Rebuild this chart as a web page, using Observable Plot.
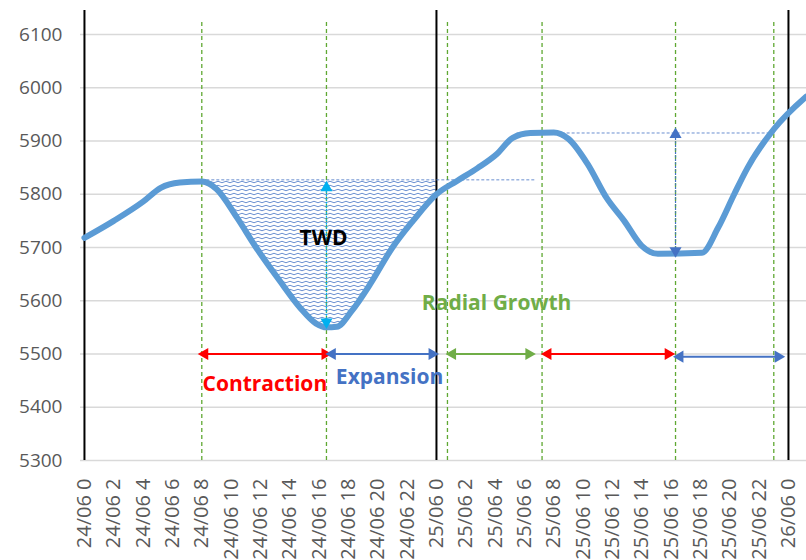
<!DOCTYPE html>
<html><head><meta charset="utf-8">
<script src="https://cdn.jsdelivr.net/npm/d3@7"></script>
<script src="https://cdn.jsdelivr.net/npm/@observablehq/plot@0.6"></script>
<style>body{margin:0;background:#fff;}</style>
</head><body><div id="chart"></div>
<script>
// Stem diameter / dendrometer curve (hours from 24/06 0h)
const hours  = [0, 2, 4, 5.2, 6.5, 8, 9, 10.4, 11.7, 13.3, 14.7, 15.8, 16.5, 17.2, 18.2, 19.5, 21, 22.4, 24, 25.4, 26.8, 28.1, 29.2, 30.4, 32, 33, 34.3, 35.6, 36.8, 38, 39.1, 42.1, 43.2, 44.3, 45.2, 47, 49.2];
const values = [5718, 5750, 5786, 5812, 5822, 5824, 5810, 5756, 5700, 5638, 5587, 5557, 5550, 5551, 5580, 5632, 5700, 5750, 5800, 5825, 5849, 5875, 5906, 5915, 5916, 5904, 5857, 5793, 5750, 5703, 5688, 5690, 5737, 5800, 5849, 5922, 5983];

const yTicks = [5300, 5400, 5500, 5600, 5700, 5800, 5900, 6000, 6100];
const tickHours = [0,2,4,6,8,10,12,14,16,18,20,22,24,26,28,30,32,34,36,38,40,42,44,46,48];
const tickLabels = ["24/06 0","24/06 2","24/06 4","24/06 6","24/06 8","24/06 10","24/06 12","24/06 14","24/06 16","24/06 18","24/06 20","24/06 22",
  "25/06 0","25/06 2","25/06 4","25/06 6","25/06 8","25/06 10","25/06 12","25/06 14","25/06 16","25/06 18","25/06 20","25/06 22","26/06 0"];

const dayBoundaries = [0, 24, 48];
const phaseLines = [8, 16.5, 24.75, 31.2, 40.3, 47];

// TWD reference level and shaded range
const twdLevel = 5827;
const twdFrom = 8;
const twdTo = 24;

// dashed reference levels
const refLevels = [5827, 5915];
const refFrom   = [8, 29.5];
const refTo     = [30.8, 47.1];

// horizontal phase arrows
const arrowFrom  = [8.2, 16.9, 25.1, 31.6, 40.6];
const arrowTo    = [16.4, 23.7, 30.3, 39.8, 47.3];
const arrowLevel = [5500, 5500, 5500, 5500, 5495];
const arrowColor = ["#ff0000", "#4472c4", "#70ad47", "#ff0000", "#4472c4"];

// vertical arrows (TWD magnitude)
const vArrowHour  = [16.5, 40.3];
const vArrowTop   = [5812, 5912];
const vArrowBot   = [5560, 5694];
const vArrowColor = ["#00b0f0", "#4472c4"];

// annotation labels
const labelText  = ["TWD", "Radial Growth", "Contraction", "Expansion"];
const labelHour  = [16.3, 28.1, 12.3, 20.8];
const labelValue = [5718, 5596, 5444, 5457];
const labelColor = ["#000000", "#70ad47", "#ff0000", "#4472c4"];

const curve = hours.map((h, i) => ({h, v: values[i]}));
const twdData = curve.filter(d => d.h >= twdFrom && d.h <= twdTo);
const refs = refLevels.map((v, i) => ({v, x1: refFrom[i], x2: refTo[i]}));
const arrows = arrowFrom.map((x1, i) => ({x1, x2: arrowTo[i], y: arrowLevel[i], c: arrowColor[i]}));
const heads = arrows.flatMap(a => [{x: a.x1, y: a.y, c: a.c, r: -90}, {x: a.x2, y: a.y, c: a.c, r: 90}]);
const vArrows = vArrowHour.map((h, i) => ({h, y1: vArrowTop[i], y2: vArrowBot[i], c: vArrowColor[i]}));
const vHeads = vArrows.flatMap(a => [{x: a.h, y: a.y1, c: a.c, r: 0}, {x: a.h, y: a.y2, c: a.c, r: 180}]);
const labels = labelText.map((t, i) => ({t, h: labelHour[i], v: labelValue[i], c: labelColor[i]}));

const svg = Plot.plot({
  width: 806,
  height: 560,
  marginLeft: 80,
  marginRight: 0,
  marginTop: 10,
  marginBottom: 100,
  style: {fontFamily: "'Open Sans', sans-serif", background: "#fff"},
  x: {domain: [-0.27, 49.23], label: null},
  y: {domain: [5300, 6145], label: null},
  marks: [
    Plot.gridY(yTicks, {stroke: "#d9d9d9", strokeOpacity: 1, strokeWidth: 1.5}),
    Plot.axisY({ticks: yTicks, tickFormat: d => String(d), tickSize: 0, tickPadding: 18, fontSize: 19, color: "#595959", label: null}),
    Plot.axisX({ticks: tickHours, tickFormat: d => tickLabels[tickHours.indexOf(d)], tickRotate: -90, tickSize: 0, tickPadding: 18, fontSize: 20, color: "#595959", label: null}),
    Plot.areaY(twdData, {x: "h", y1: twdLevel, y2: "v", fill: "url(#wave)", curve: "monotone-x"}),
    Plot.ruleX(phaseLines, {y1: 5300, y2: 6125, stroke: "#5fa832", strokeWidth: 1.3, strokeDasharray: "4,3"}),
    Plot.ruleX(dayBoundaries, {y1: 5300, y2: 6145, stroke: "#000", strokeWidth: 2}),
    Plot.ruleY(refs, {y: "v", x1: "x1", x2: "x2", stroke: "#4472c4", strokeWidth: 0.8, strokeDasharray: "3,2"}),
    Plot.line(curve, {x: "h", y: "v", stroke: "#5b9bd5", strokeWidth: 6, curve: "monotone-x", strokeLinejoin: "round", strokeLinecap: "round"}),
    Plot.link(vArrows, {x1: "h", x2: "h", y1: "y1", y2: "y2", stroke: "c", strokeWidth: 1.2, strokeDasharray: "2,1.5"}),
    Plot.dot(vHeads, {x: "x", y: "y", fill: "c", symbol: "triangle", r: 4.5, rotate: "r", stroke: null}),
    Plot.link(arrows, {x1: "x1", x2: "x2", y1: "y", y2: "y", stroke: "c", strokeWidth: 2}),
    Plot.dot(heads, {x: "x", y: "y", fill: "c", symbol: "triangle", r: 4.5, rotate: "r", stroke: null}),
    Plot.text(labels, {x: "h", y: "v", text: "t", fill: "c", fontSize: 21, fontWeight: "bold"})
  ]
});

d3.select(svg).insert("defs", ":first-child").html(
  `<pattern id="wave" patternUnits="userSpaceOnUse" width="8" height="4">
     <rect width="8" height="4" fill="#ffffff"/>
     <path d="M0,2 Q2,0.5 4,2 T8,2" fill="none" stroke="#4472c4" stroke-width="0.8"/>
   </pattern>`);

document.getElementById("chart").appendChild(svg);
</script>
</body></html>
